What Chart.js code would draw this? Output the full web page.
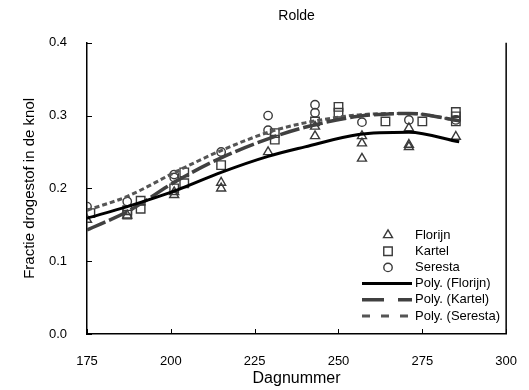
<!DOCTYPE html>
<html>
<head>
<meta charset="utf-8">
<script src="https://cdn.jsdelivr.net/npm/chart.js@4.4.1/dist/chart.umd.min.js"></script>
<style>
html,body{margin:0;padding:0;background:#fff}
</style>
</head>
<body>
<canvas id="grafik" width="529" height="390"></canvas>
<script>
// ================= DATA =================
const florijnDag = [175,187,201,201,215,215,229,243,243,257,257,257,271,271,271,285];
const florijnVal = [0.157,0.163,0.191,0.195,0.200,0.208,0.250,0.285,0.272,0.272,0.262,0.241,0.283,0.260,0.257,0.271];

const kartelDag = [176,187,187,191,191,201,204,204,215,231,231,243,250,250,264,275,285,285,285];
const kartelVal = [0.166,0.164,0.170,0.172,0.183,0.200,0.207,0.222,0.232,0.267,0.276,0.292,0.304,0.312,0.292,0.292,0.292,0.299,0.305];

const serestaDag = [175,187,201,201,215,229,229,243,243,257,271,285];
const serestaVal = [0.175,0.182,0.215,0.219,0.250,0.280,0.300,0.304,0.315,0.291,0.294,0.294];

const trendDag    = [175,187,202,215,229,240,256,271,286];
const polyFlorijn = [0.159,0.175,0.198,0.222,0.244,0.257,0.274,0.277,0.264];
const polyKartel  = [0.143,0.168,0.211,0.242,0.268,0.284,0.299,0.303,0.293];
const polySeresta = [0.170,0.189,0.224,0.252,0.277,0.290,0.301,0.303,0.293];

const xTicks = [175,200,225,250,275,300];
const yTicks = [0,0.1,0.2,0.3,0.4];

const toPts = (xs,ys)=>xs.map((x,i)=>({x, y:ys[i]}));

Chart.defaults.font.family = "'Liberation Sans', Arial, sans-serif";
Chart.defaults.color = "#000";

const markerStyle = {
  showLine:false,
  borderColor:"#3a3a3a",
  backgroundColor:"rgba(0,0,0,0)",
  borderWidth:1.4,
  order:2
};
const lineStyle = {
  showLine:true,
  pointRadius:0,
  cubicInterpolationMode:"monotone",
  fill:false,
  order:1
};

const datasets = [
  {...markerStyle, label:"Florijn", data:toPts(florijnDag,florijnVal), pointStyle:"triangle", pointRadius:5.2},
  {...markerStyle, label:"Kartel",  data:toPts(kartelDag,kartelVal),   pointStyle:"rect",     pointRadius:6},
  {...markerStyle, label:"Seresta", data:toPts(serestaDag,serestaVal), pointStyle:"circle",   pointRadius:4.2},
  {...lineStyle, label:"Poly. (Florijn)", data:toPts(trendDag,polyFlorijn), borderColor:"#000",    borderWidth:3},
  {...lineStyle, label:"Poly. (Kartel)",  data:toPts(trendDag,polyKartel),  borderColor:"#404040", borderWidth:3.5, borderDash:[20,4]},
  {...lineStyle, label:"Poly. (Seresta)", data:toPts(trendDag,polySeresta), borderColor:"#555",    borderWidth:3,   borderDash:[5,3]}
];

// ================= INSIDE TICKS + RIGHT BORDER =================
const tickPlugin = {
  id:"tickDalam",
  afterDatasetsDraw(chart){
    const {ctx, chartArea:a, scales:{x,y}} = chart;
    ctx.save();
    ctx.strokeStyle="#000";
    ctx.lineWidth=1;
    x.ticks.forEach(t=>{
      const px=Math.round(x.getPixelForValue(t.value))+0.5;
      ctx.beginPath(); ctx.moveTo(px,a.bottom); ctx.lineTo(px,a.bottom-5); ctx.stroke();
    });
    y.ticks.forEach(t=>{
      const py=Math.round(y.getPixelForValue(t.value))+0.5;
      ctx.beginPath(); ctx.moveTo(a.left,py); ctx.lineTo(a.left+5,py); ctx.stroke();
    });
    ctx.lineWidth=1.5;
    ctx.beginPath(); ctx.moveTo(a.right,a.top); ctx.lineTo(a.right,a.bottom); ctx.stroke();
    ctx.restore();
  }
};

// ================= LEGEND IN PLOT =================
const legendPlugin = {
  id:"legendaBinnen",
  afterDraw(chart){
    const ctx = chart.ctx;
    const x0=362, x1=412, xm=388, xt=415, yStart=235, step=16.2;
    ctx.save();
    ctx.font="13px 'Liberation Sans', Arial, sans-serif";
    ctx.textBaseline="middle";
    chart.data.datasets.forEach((ds,i)=>{
      const yy=yStart+i*step;
      if(ds.showLine){
        ctx.strokeStyle=ds.borderColor;
        ctx.lineWidth=ds.borderWidth;
        ctx.setLineDash(i===4?[22,14]:(i===5?[8,11]:[]));
        ctx.beginPath(); ctx.moveTo(x0,yy); ctx.lineTo(x1,yy); ctx.stroke();
        ctx.setLineDash([]);
      }else{
        ctx.fillStyle="rgba(0,0,0,0)";
        ctx.strokeStyle=ds.borderColor;
        ctx.lineWidth=ds.borderWidth;
        Chart.helpers.drawPoint(ctx,{
          pointStyle:ds.pointStyle, radius:ds.pointRadius, rotation:0,
          borderWidth:ds.borderWidth
        },xm,yy);
      }
      ctx.fillStyle="#000";
      ctx.fillText(ds.label,xt,yy);
    });
    ctx.restore();
  }
};

new Chart(document.getElementById("grafik"),{
  type:"scatter",
  data:{datasets},
  options:{
    responsive:false,
    animation:false,
    layout:{padding:{left:0,right:12,top:0,bottom:0}},
    plugins:{
      legend:{display:false},
      tooltip:{enabled:false},
      title:{
        display:true, text:"Rolde", fullSize:false,
        font:{size:14, weight:"normal"}, color:"#000",
        padding:{top:8,bottom:18}
      }
    },
    scales:{
      x:{
        type:"linear", min:175, max:300,
        afterFit:s=>{ s.height=56; },
        afterBuildTicks:s=>{ s.ticks=xTicks.map(v=>({value:v})); },
        grid:{display:false},
        border:{display:true,color:"#000",width:1.5},
        ticks:{font:{size:13}, padding:12, maxRotation:0},
        title:{display:true,text:"Dagnummer",font:{size:16},padding:{top:0,bottom:2}}
      },
      y:{
        type:"linear", min:0, max:0.4,
        afterFit:s=>{ s.width=87; },
        afterBuildTicks:s=>{ s.ticks=yTicks.map(v=>({value:v})); },
        grid:{display:false},
        border:{display:true,color:"#000",width:1.5},
        ticks:{font:{size:13}, padding:12, callback:v=>Number(v).toFixed(1)},
        title:{display:true,text:"Fractie drogestof in de knol",font:{size:15},padding:{top:21,bottom:0}}
      }
    }
  },
  plugins:[tickPlugin,legendPlugin]
});
</script>
</body>
</html>
